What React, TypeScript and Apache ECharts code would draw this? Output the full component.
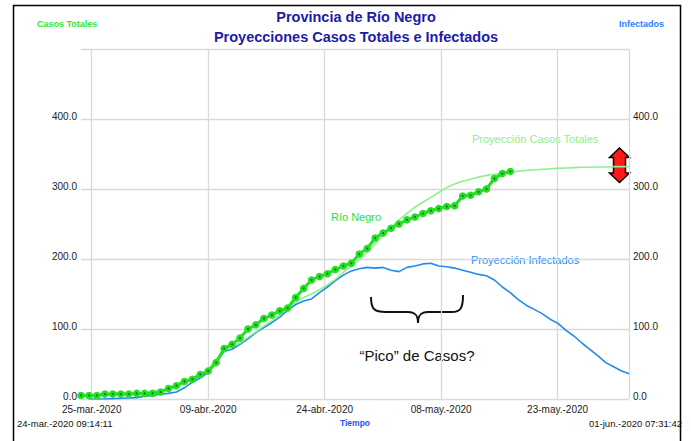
import React, { useEffect, useRef } from 'react';
import * as echarts from 'echarts';

// Time axis in days since 24-mar.-2020 09:14:11
const startLabel = '24-mar.-2020 09:14:11';
const endLabel = '01-jun.-2020 07:31:42';
const tEnd = 68.93;
const tickPositions = [1.35, 16.0, 30.65, 45.3, 59.95];
const tickLabels = ['25-mar.-2020', '09-abr.-2020', '24-abr.-2020', '08-may.-2020', '23-may.-2020'];
const yTicks = [0, 100, 200, 300, 400, 500];

// Río Negro observed total cases, daily from t = 0
const rioNegro = [
  5, 5, 5, 7, 7, 7, 7, 8, 8, 8,
  10, 15, 19, 25, 28, 35, 40, 52, 72, 78,
  87, 100, 106, 115, 120, 126, 130, 145, 158, 170,
  175, 179, 185, 190, 194, 207, 215, 230, 237, 244,
  250, 256, 260, 265, 269, 272, 275, 276, 290, 291,
  296, 300, 315, 322, 325,
];

// Proyección Casos Totales, daily from t = 0, then final value at tEnd
const projTotales = [
  5, 5, 5, 5.5, 6, 6.5, 7, 8, 9, 11,
  12, 14, 17, 22, 28, 34, 42, 56, 70, 75,
  80, 88, 96, 104, 112, 120, 130, 138, 145, 150,
  156, 163, 171, 181, 190, 199, 210, 222, 234, 245,
  256, 265, 274, 281, 288, 295, 302, 307, 311, 314,
  317, 319.5, 321, 322.5, 324, 325.5, 326.5, 327.5, 328, 329,
  329.5, 330, 330.5, 331, 331, 331.5, 331.5, 332, 332,
];
const projTotalesEnd = 332;

// Proyección Infectados, daily from t = 1, then final value at tEnd
const projInfectados = [
  0, 0, 0, 0.5, 1, 1.5, 2, 4, 5, 7,
  8, 10, 16, 24, 30, 38, 52, 68, 71, 78,
  86, 95, 102, 109, 117, 127, 135, 140, 143, 152,
  160, 169, 177, 183, 186, 188, 187, 188, 184, 182,
  188, 190, 193, 194, 190, 189, 187, 184, 181, 178,
  176, 170, 160, 152, 142, 134, 128, 122, 114, 108,
  98, 90, 80, 71, 62, 52, 46, 40,
];
const projInfectadosEnd = 36;

const FONT = '"Liberation Sans", Arial, Helvetica, sans-serif';
const GRID = '#d9d9d9';

const bracePath =
  'M371,297 C371,309 374,312 386,312 L408,312 C414,312 418,314 418,323 C418,314 422,312 428,312 L452,312 C460,312 463,309 463,295';

export default function App() {
  const ref = useRef<HTMLDivElement>(null);

  useEffect(() => {
    document.body.style.margin = '0';
    echarts.graphic.registerShape('brace', echarts.graphic.extendPath(bracePath, {}) as any);
    const chart = echarts.init(ref.current!, null, { renderer: 'svg' });

    const rnData = rioNegro.map((v, i) => [i, v]);
    const totData = projTotales.map((v, i) => [i, v]).concat([[tEnd, projTotalesEnd]]);
    const infData = projInfectados.map((v, i) => [i + 1, v]).concat([[tEnd, projInfectadosEnd]]);

    const yLabel = (v: number) => (v === yTicks[yTicks.length - 1] ? '' : v.toFixed(1));
    const xLabel = (v: number) => {
      const i = tickPositions.findIndex((p) => Math.abs(p - v) < 0.01);
      return i >= 0 ? tickLabels[i] : '';
    };

    const yAxisLabel = {
      formatter: yLabel,
      fontSize: 10,
      color: '#222',
      margin: 4,
      verticalAlign: 'bottom',
      lineHeight: 5,
    };

    const option: any = {
      animation: false,
      backgroundColor: '#fff',
      textStyle: { fontFamily: FONT },
      title: [
        {
          text: 'Provincia de Río Negro',
          left: 356,
          top: 9,
          textAlign: 'center',
          padding: 0,
          textStyle: { fontSize: 14.5, fontWeight: 'bold', color: '#1c1ca6', fontFamily: FONT },
        },
        {
          text: 'Proyecciones Casos Totales e Infectados',
          left: 356,
          top: 29,
          textAlign: 'center',
          padding: 0,
          textStyle: { fontSize: 14.5, fontWeight: 'bold', color: '#1c1ca6', fontFamily: FONT },
        },
      ],
      grid: { left: 81, right: 62, top: 49, bottom: 42, containLabel: false },
      xAxis: {
        type: 'value',
        min: 0,
        max: tEnd,
        axisLine: { show: false },
        axisTick: { show: false, customValues: [...tickPositions, tEnd] },
        axisLabel: {
          customValues: tickPositions,
          formatter: xLabel,
          fontSize: 10,
          color: '#222',
          margin: 5,
        },
        splitLine: { show: true, lineStyle: { color: GRID, width: 1.3 } },
        name: 'Tiempo',
        nameLocation: 'middle',
        nameGap: 19,
        nameTextStyle: { color: '#1f4fff', fontWeight: 'bold', fontSize: 8.5 },
      },
      yAxis: [
        {
          type: 'value',
          min: 0,
          max: 500,
          interval: 100,
          position: 'left',
          axisLine: { show: false },
          axisTick: { show: false },
          axisLabel: yAxisLabel,
          splitLine: { show: true, lineStyle: { color: GRID, width: 1.3 } },
        },
        {
          type: 'value',
          min: 0,
          max: 500,
          interval: 100,
          position: 'right',
          axisLine: { show: false },
          axisTick: { show: false },
          axisLabel: yAxisLabel,
          splitLine: { show: false },
        },
      ],
      series: [
        {
          name: 'Proyección Infectados',
          type: 'line',
          data: infData,
          showSymbol: false,
          lineStyle: { color: '#1f8bf0', width: 1.6 },
          itemStyle: { color: '#1f8bf0' },
          z: 2,
        },
        {
          name: 'Proyección Casos Totales',
          type: 'line',
          data: totData,
          showSymbol: false,
          lineStyle: { color: '#8ff08f', width: 1.6 },
          itemStyle: { color: '#8ff08f' },
          z: 3,
        },
        {
          name: 'Río Negro',
          type: 'line',
          data: rnData,
          symbol: 'circle',
          symbolSize: 7.5,
          showAllSymbol: true,
          lineStyle: { color: '#22e022', width: 3 },
          itemStyle: { color: '#22e022' },
          z: 4,
        },
        {
          name: 'Río Negro (puntos)',
          type: 'scatter',
          data: rnData,
          symbolSize: 2,
          itemStyle: { color: '#1d4a1d' },
          silent: true,
          z: 5,
        },
      ],
      graphic: [
        {
          type: 'rect',
          silent: true,
          shape: { x: 13.5, y: 5.5, width: 667, height: 460 },
          style: { fill: 'none', stroke: '#000', lineWidth: 1.5 },
        },
        {
          type: 'text',
          x: 37,
          y: 24,
          style: { text: 'Casos Totales', fill: '#2ee82e', fontSize: 9, fontWeight: 'bold', fontFamily: FONT, align: 'left', verticalAlign: 'middle' },
        },
        {
          type: 'text',
          x: 664,
          y: 24,
          style: { text: 'Infectados', fill: '#2b80ff', fontSize: 9, fontWeight: 'bold', fontFamily: FONT, align: 'right', verticalAlign: 'middle' },
        },
        {
          type: 'text',
          x: 331,
          y: 217,
          style: { text: 'Río Negro', fill: '#2ee22e', fontSize: 11, fontFamily: FONT, align: 'left', verticalAlign: 'middle' },
        },
        {
          type: 'text',
          x: 472,
          y: 139,
          style: { text: 'Proyección Casos Totales', fill: '#8ef08e', fontSize: 11, fontFamily: FONT, align: 'left', verticalAlign: 'middle' },
        },
        {
          type: 'text',
          x: 471,
          y: 259.5,
          style: { text: 'Proyección Infectados', fill: '#2a8af0', fontSize: 11, fontFamily: FONT, align: 'left', verticalAlign: 'middle' },
        },
        {
          type: 'text',
          x: 417,
          y: 355,
          style: { text: '“Pico” de Casos?', fill: '#111', fontSize: 15, fontFamily: FONT, align: 'center', verticalAlign: 'middle' },
        },
        {
          type: 'brace',
          x: 0,
          y: 0,
          style: { fill: 'none', stroke: '#111', lineWidth: 2 },
        },
        {
          type: 'polygon',
          shape: {
            points: [
              [619.5, 148], [629.5, 157.5], [625.5, 157.5], [625.5, 173], [629.5, 173],
              [619.5, 182.5], [609.5, 173], [613.5, 173], [613.5, 157.5], [609.5, 157.5],
            ],
          },
          style: { fill: '#ff1a1a', stroke: '#000', lineWidth: 1.5 },
        },
        {
          type: 'text',
          x: 17,
          y: 423,
          style: { text: startLabel, fill: '#111', fontSize: 9.5, fontFamily: FONT, align: 'left', verticalAlign: 'middle' },
        },
        {
          type: 'text',
          x: 682,
          y: 423,
          style: { text: endLabel, fill: '#111', fontSize: 9.5, fontFamily: FONT, align: 'right', verticalAlign: 'middle' },
        },
      ],
    };

    chart.setOption(option);
    return () => chart.dispose();
  }, []);

  return <div ref={ref} style={{ position: 'absolute', left: 0, top: 0, width: 691, height: 441 }} />;
}
